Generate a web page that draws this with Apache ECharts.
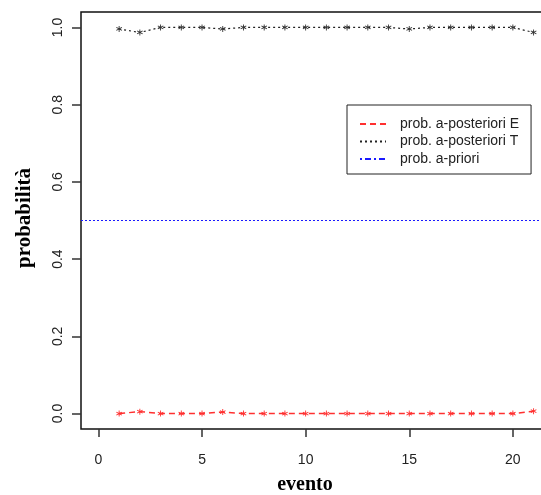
<!DOCTYPE html>
<html>
<head>
<meta charset="utf-8">
<script src="https://cdn.jsdelivr.net/npm/echarts@6/dist/echarts.min.js"></script>
<style>
  html, body { margin: 0; padding: 0; background: #fff; }
  #chart { width: 541px; height: 495px; }
</style>
</head>
<body>
<div id="chart"></div>
<script>
// Events and posterior / prior probabilities
const events = [1, 2, 3, 4, 5, 6, 7, 8, 9, 10, 11, 12, 13, 14, 15, 16, 17, 18, 19, 20, 21];
const postE = [0.0, 0.005, 0.0, 0.0, 0.0, 0.004, 0.0, 0.0, 0.0, 0.0, 0.0, 0.0, 0.0, 0.0, 0.0, 0.0, 0.0, 0.0, 0.0, 0.0, 0.006];
const postT = [0.996, 0.987, 1.0, 1.0, 1.0, 0.996, 1.0, 1.0, 1.0, 1.0, 1.0, 1.0, 1.0, 1.0, 0.996, 1.0, 1.0, 1.0, 1.0, 1.0, 0.987];
const prior = 0.5;
const xTicks = [0, 5, 10, 15, 20];
const yTicks = [0, 0.2, 0.4, 0.6, 0.8, 1.0];
const seriesNames = ['prob. a-posteriori E', 'prob. a-posteriori T', 'prob. a-priori'];

// asterisk marker (three thin bars)
const star = 'path://M-0.7,-5L0.7,-5L0.7,5L-0.7,5Z' +
  'M3.98,-3.11L4.68,-1.89L-3.98,3.11L-4.68,1.89Z' +
  'M-4.68,-1.89L-3.98,-3.11L4.68,1.89L3.98,3.11Z';

const pairs = (ys) => events.map((x, i) => [x, ys[i]]);

const chart = echarts.init(document.getElementById('chart'), null, { renderer: 'canvas' });
chart.setOption({
  animation: false,
  backgroundColor: '#fff',
  grid: {
    left: 81, top: 12, width: 470, bottom: 66,
    outerBoundsMode: 'none', containLabel: false,
    show: true, borderColor: '#111', borderWidth: 1.5, backgroundColor: 'transparent'
  },
  xAxis: {
    type: 'value', min: -0.84, max: 21.84,
    splitLine: { show: false },
    axisLine: { show: false, onZero: false },
    axisTick: { show: true, customValues: xTicks, length: 8, inside: false, lineStyle: { color: '#333', width: 1.5 } },
    axisLabel: { customValues: xTicks, margin: 24, fontSize: 14, color: '#222', fontFamily: 'Liberation Sans' }
  },
  yAxis: {
    type: 'value', min: -0.04, max: 1.04,
    splitLine: { show: false },
    axisLine: { show: false, onZero: false },
    axisTick: { show: true, customValues: yTicks, length: 9, inside: false, lineStyle: { color: '#333', width: 1.5 } },
    axisLabel: {
      customValues: yTicks, margin: 16, fontSize: 14, color: '#222', rotate: 90,
      fontFamily: 'Liberation Sans', formatter: (v) => v.toFixed(1)
    }
  },
  legend: {
    orient: 'vertical', left: 347, top: 105,
    data: seriesNames,
    borderColor: '#222', borderWidth: 1, padding: [12, 12, 8, 12],
    itemWidth: 26, itemHeight: 14, itemGap: 3.5,
    itemStyle: { opacity: 0 },
    textStyle: { fontSize: 14, color: '#222', fontFamily: 'Liberation Sans', padding: [0, 0, 0, 9] }
  },
  graphic: [
    {
      type: 'text', x: 25, y: 218, rotation: Math.PI / 2,
      style: { text: 'probabilità', font: 'bold 21px "Liberation Serif"', fill: '#000', align: 'center', verticalAlign: 'middle' }
    },
    {
      type: 'text', x: 305, y: 485,
      style: { text: 'evento', font: 'bold 20px "Liberation Serif"', fill: '#000', align: 'center', verticalAlign: 'middle' }
    }
  ],
  series: [
    {
      name: seriesNames[0], type: 'line', data: pairs(postE),
      symbol: star, symbolSize: 6,
      itemStyle: { color: '#ff3030' },
      lineStyle: { color: '#ff3030', width: 1.5, type: [6, 4] }
    },
    {
      name: seriesNames[1], type: 'line', data: pairs(postT),
      symbol: star, symbolSize: 6,
      itemStyle: { color: '#333' },
      lineStyle: { color: '#222', width: 1.2, type: [2, 3] }
    },
    {
      name: seriesNames[2], type: 'line', data: [],
      itemStyle: { color: '#1a1aff' },
      lineStyle: { color: '#1a1aff', width: 1.2, type: [2, 3, 6, 3] },
      markLine: {
        silent: true, symbol: 'none', label: { show: false },
        lineStyle: { color: '#1a1aff', width: 1.2, type: [2, 2] },
        data: [{ yAxis: prior }]
      }
    }
  ]
});
</script>
</body>
</html>
